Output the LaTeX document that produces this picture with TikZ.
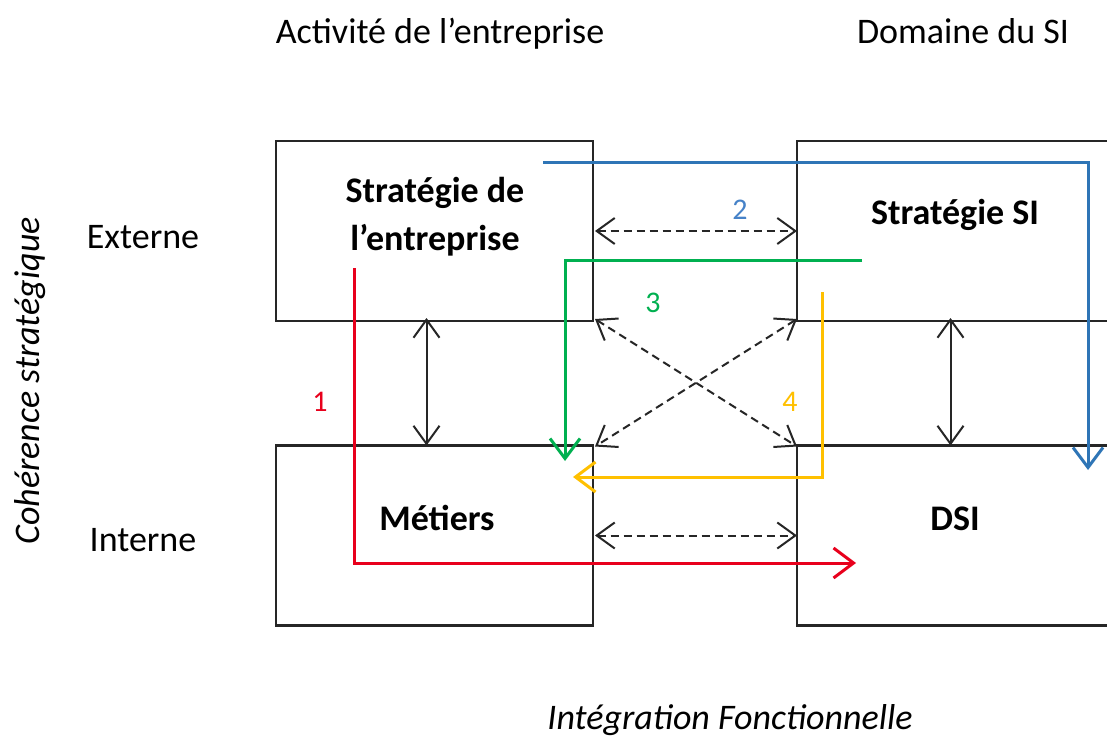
\documentclass[tikz,border=0pt]{standalone}
\usepackage{fontspec}
\setmainfont{Carlito}
\usetikzlibrary{arrows.meta}
\definecolor{cred}{RGB}{232,0,28}
\definecolor{cblue}{RGB}{46,117,182}
\definecolor{cgreen}{RGB}{0,176,80}
\definecolor{cyellow}{RGB}{255,192,0}
\definecolor{cnum2}{RGB}{70,130,200}
\begin{document}
\begin{tikzpicture}[x=1pt,y=-1pt,
  box/.style={draw=black!85, line width=2.2pt, minimum width=317pt, minimum height=180pt, inner sep=0pt, outer sep=0pt},
  lbl/.style={font=\fontsize{36}{42}\selectfont, anchor=base, inner sep=0pt},
  blbl/.style={font=\fontsize{36}{42}\selectfont\bfseries, anchor=base, inner sep=0pt},
  num/.style={font=\fontsize{30}{36}\selectfont, anchor=base, inner sep=0pt},
  dbl/.style={line width=2pt, black!85, {Straight Barb[length=18pt,width=26pt]}-{Straight Barb[length=18pt,width=26pt]}},
  dsh/.style={dbl, dash pattern=on 8pt off 5pt},
  flow/.style={line width=3pt, -{Straight Barb[length=20pt,width=30pt]}}
]
\useasboundingbox (0,0) rectangle (1107,738);
\clip (0,0) rectangle (1107,738);
\fill[white] (0,0) rectangle (1107,738);

% headings
\node[lbl] (h1) at (440,44) {Activité de l’entreprise};
\node[lbl] (h2) at (963,44) {Domaine du SI};
\node[lbl] (ext) at (143,248) {Externe};
\node[lbl] (int) at (143,551) {Interne};
\node[font=\fontsize{36}{42}\selectfont\itshape, rotate=90, inner sep=0pt] (coh) at (30,381) {Cohérence stratégique};
\node[lbl, font=\fontsize{36}{42}\selectfont\itshape] (integ) at (730,729) {Intégration Fonctionnelle};

% boxes
\node[box] (se) at (434.5,231) {};
\node[box] (me) at (434.5,535.5) {};
\node[box] (ss) at (955.5,231) {};
\node[box] (ds) at (955.5,535.5) {};

\node[blbl] (set1) at (435,202) {Stratégie de};
\node[blbl] (set2) at (435,250) {l’entreprise};
\node[blbl] (sst) at (955,224) {Stratégie SI};
\node[blbl] (met) at (437,530) {Métiers};
\node[blbl] (dst) at (955,530) {DSI};

% black arrows
\draw[dbl] ([xshift=-8pt,yshift=3pt]se.south) -- ([xshift=-8pt]me.north);
\draw[dbl] ([xshift=-5pt,yshift=3pt]ss.south) -- ([xshift=-5pt]ds.north);
\draw[dsh] ([xshift=2pt]se.east) -- (ss.west);
\draw[dsh] ([xshift=2pt]me.east) -- (ds.west);
\draw[dsh] ([xshift=2pt,yshift=2pt]se.south east) -- ([yshift=-1pt]ds.north west);
\draw[dsh] ([yshift=2pt]ss.south west) -- ([xshift=2pt,yshift=-1pt]me.north east);

% coloured flows
\coordinate (r0) at (354,268);
\coordinate (r1) at (856,563);
\draw[flow, cred] (r0) |- (r1);
\coordinate (b0) at (543,163);
\coordinate (b1) at (1088,470);
\draw[flow, cblue] (b0) -| (b1);
\coordinate (g0) at (862,260);
\coordinate (g1) at (565,461);
\draw[flow, cgreen] (g0) -| (g1);
\coordinate (y0) at (822,292);
\coordinate (y1) at (573,477);
\draw[flow, cyellow] (y0) |- (y1);

% numbers
\node[num, text=cred] (n1) at (320,411) {1};
\node[num, text=cnum2] (n2) at (740,219) {2};
\node[num, text=cgreen] (n3) at (653,312) {3};
\node[num, text=cyellow] (n4) at (790,411) {4};
\end{tikzpicture}
\end{document}
